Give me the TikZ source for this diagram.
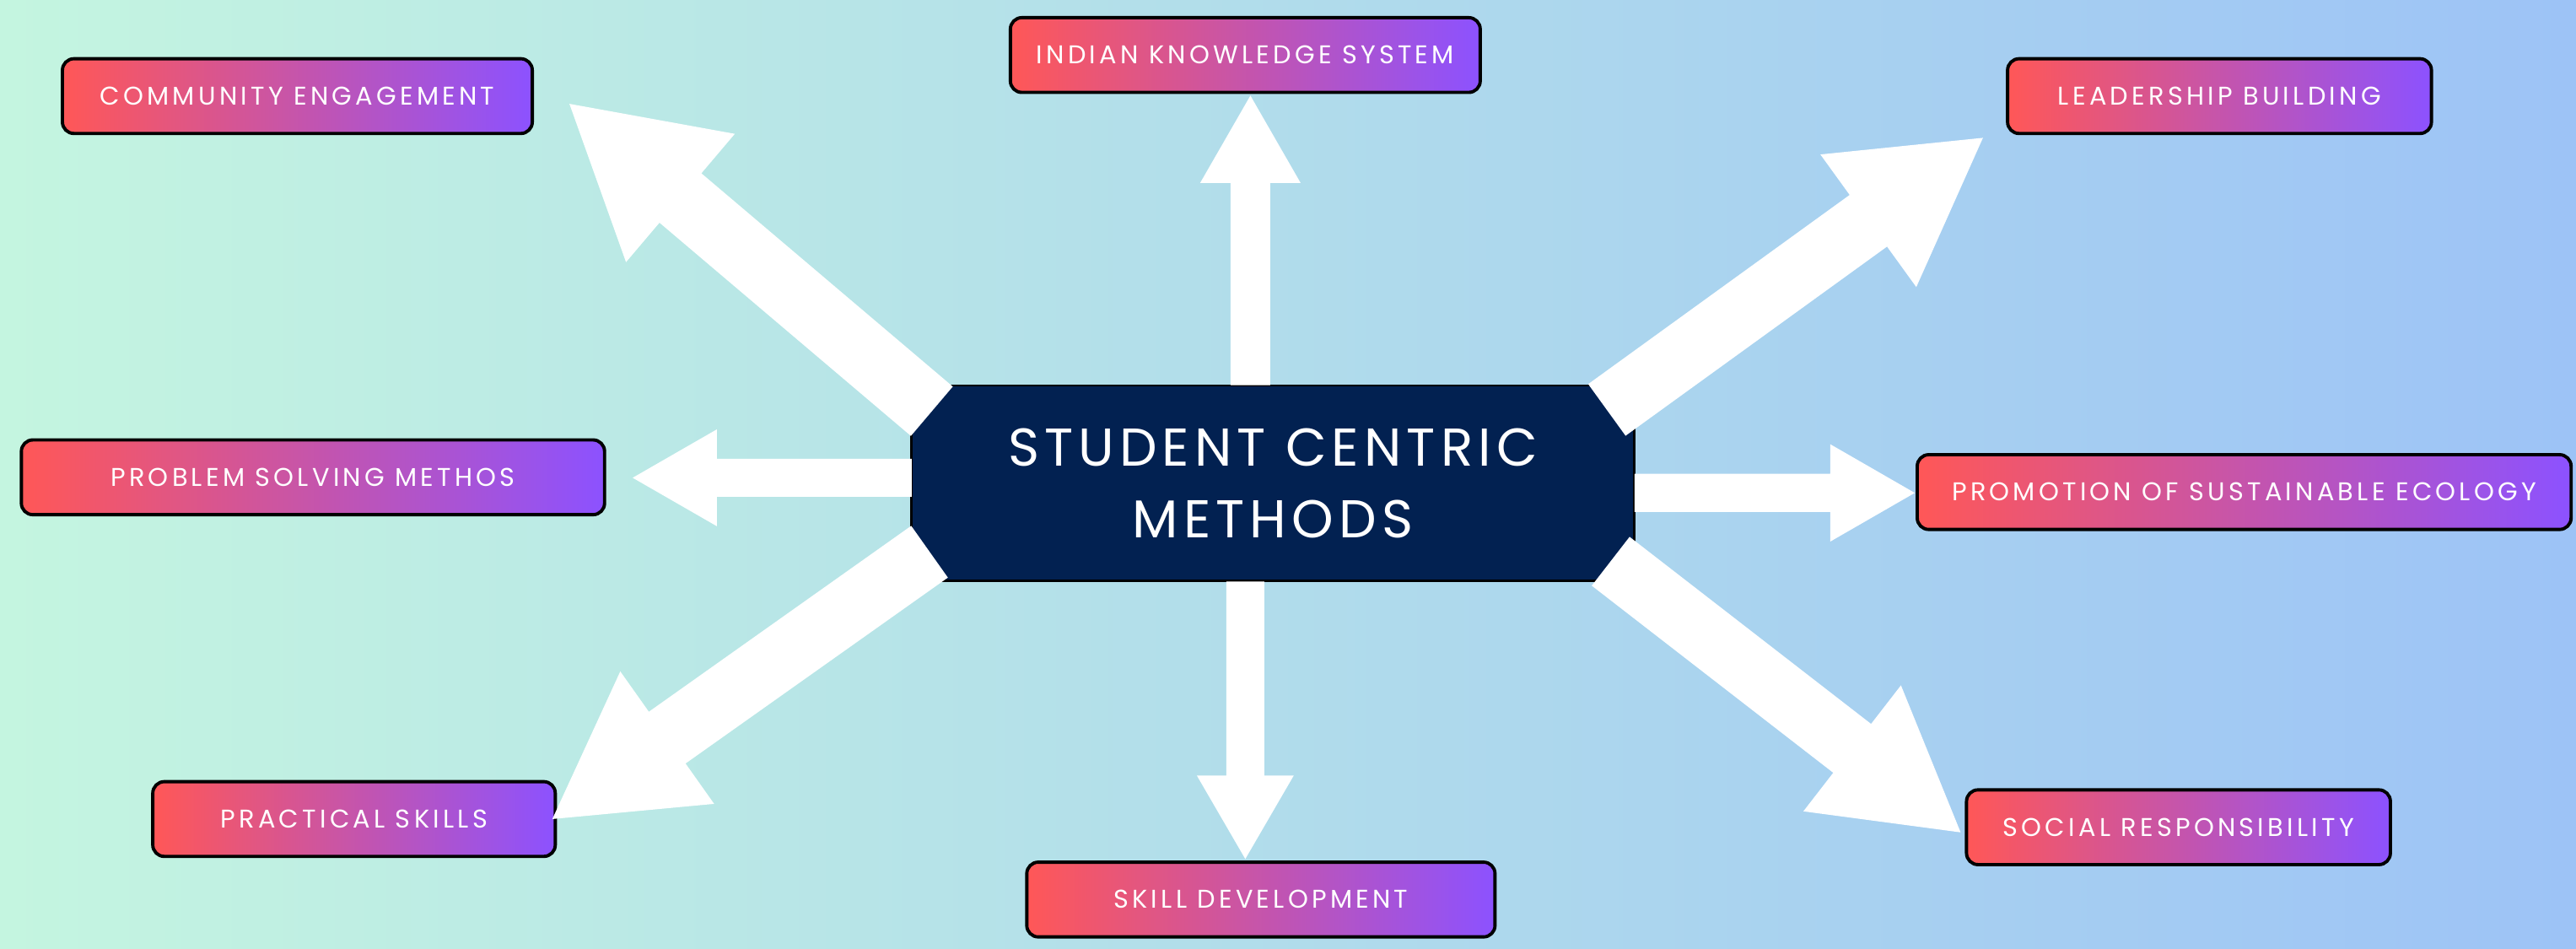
\documentclass[tikz,border=0pt]{standalone}
\usepackage{fontspec}
\setmainfont{Poppins}
\newfontfamily\itemfont[LetterSpace=14]{Poppins}
\newfontfamily\hubfont[LetterSpace=9.7]{Poppins}
\usetikzlibrary{calc}
\definecolor{bgL}{RGB}{196,245,224}
\definecolor{bgR}{RGB}{157,195,246}
\definecolor{gradL}{HTML}{FF5757}
\definecolor{gradR}{HTML}{8C52FF}
\definecolor{navy}{HTML}{022151}
\newcommand\blockarrow[5]{%
  \coordinate (hb) at ($(#2)!#5!(#1)$);
  \fill[white] ($(#1)!#3!90:(#2)$) -- ($(hb)!#3!90:(#2)$) -- ($(hb)!#4!90:(#2)$) -- (#2)
    -- ($(hb)!#4!-90:(#2)$) -- ($(hb)!#3!-90:(#2)$) -- ($(#1)!#3!-90:(#2)$) -- cycle;}
\begin{document}
\begin{tikzpicture}[x=1pt,y=-1pt,
  item/.style={draw=black, line width=2pt, rounded corners=7pt, left color=gradL, right color=gradR,
    text=white, minimum height=45.5pt, inner sep=0pt, font=\itemfont\fontsize{15.6}{18}\selectfont},
  hub/.style={draw=black, line width=1.5pt, fill=navy, text=white, minimum width=440pt,
    minimum height=119pt, inner sep=0pt, align=center, font=\hubfont\fontsize{32.4}{44}\selectfont}]
\shade[left color=bgL, right color=bgR] (0,0) rectangle (1568,577.1);
\useasboundingbox (0,0) rectangle (1568,577.1);

% outer boxes
\node[item, minimum width=286pt] (ce)  at (181,58.5)   {COMMUNITY ENGAGEMENT};
\node[item, minimum width=286pt] (iks) at (758,33.5)   {INDIAN KNOWLEDGE SYSTEM};
\node[item, minimum width=258pt] (lb)  at (1351,58.5)  {LEADERSHIP BUILDING};
\node[item, minimum width=355pt] (psm) at (190.5,290.5){PROBLEM SOLVING METHOS};
\node[item, minimum width=398pt] (pse) at (1366,299.5) {PROMOTION OF SUSTAINABLE ECOLOGY};
\node[item, minimum width=245pt] (ps)  at (215.5,498.5){PRACTICAL SKILLS};
\node[item, minimum width=285pt] (sd)  at (767.5,547.5){SKILL DEVELOPMENT};
\node[item, minimum width=258pt] (sr)  at (1326,503.5) {SOCIAL RESPONSIBILITY};

% hub
\node[hub] (c) at (774.75,294.15) {STUDENT CENTRIC\\METHODS};

% arrow end points
\coordinate (sUL) at (567.2,250.3);  \coordinate (tUL) at (346.6,63.2);
\coordinate (sUR) at (978.1,249.5);  \coordinate (tUR) at (1207,83.9);
\coordinate (sLL) at (565.8,335.8);  \coordinate (tLL) at (336.2,498.5);
\coordinate (sLR) at (980.4,341.6);  \coordinate (tLR) at (1193.4,506.6);
\coordinate (sU) at (761.1,234.5);   \coordinate (tU) at (761.1,58.2);
\coordinate (sD) at (758,354);       \coordinate (tD) at (758,522.8);
\coordinate (sL) at (555,290.8);     \coordinate (tL) at (385.1,290.8);
\coordinate (sR) at (995,300);       \coordinate (tR) at (1165.5,300);

\blockarrow{sUL}{tUL}{19.7pt}{51.2pt}{88.6pt}
\blockarrow{sUR}{tUR}{19.4pt}{49.8pt}{86.1pt}
\blockarrow{sLL}{tLL}{19.3pt}{49.4pt}{85.7pt}
\blockarrow{sLR}{tLR}{18.8pt}{48.5pt}{83.5pt}
\blockarrow{sU}{tU}{12.05pt}{30.6pt}{53.2pt}
\blockarrow{sD}{tD}{11.6pt}{29.5pt}{50.8pt}
\blockarrow{sL}{tL}{11.6pt}{29.5pt}{51.3pt}
\blockarrow{sR}{tR}{11.6pt}{29.6pt}{51.4pt}
\end{tikzpicture}
\end{document}
